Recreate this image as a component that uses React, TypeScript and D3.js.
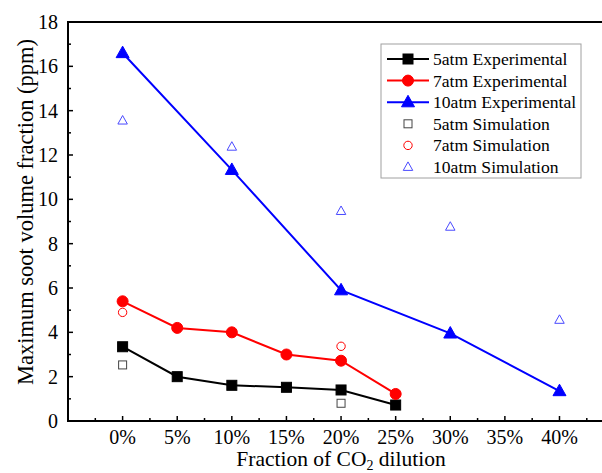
import React from "react";
import * as d3 from "d3";

// CO2 dilution levels (%)
const dilution5 = [0, 5, 10, 15, 20, 25];
const dilution7 = [0, 5, 10, 15, 20, 25];
const dilution10 = [0, 10, 20, 30, 40];

// Measured maximum soot volume fraction (ppm)
const exp5atm = [3.35, 2.0, 1.61, 1.52, 1.4, 0.72];
const exp7atm = [5.4, 4.2, 4.0, 3.0, 2.72, 1.22];
const exp10atm = [16.6, 11.33, 5.9, 3.95, 1.35];

// Simulated maximum soot volume fraction (ppm)
const simDil5 = [0, 20];
const sim5atm = [2.53, 0.8];
const simDil7 = [0, 20];
const sim7atm = [4.9, 3.37];
const simDil10 = [0, 10, 20, 30, 40];
const sim10atm = [13.55, 12.37, 9.47, 8.76, 4.56];

const xTicks = [0, 5, 10, 15, 20, 25, 30, 35, 40];
const yTicks = [0, 2, 4, 6, 8, 10, 12, 14, 16, 18];

const legendItems = [
  { label: "5atm Experimental", color: "#000", shape: "square", filled: true },
  { label: "7atm Experimental", color: "#ff0000", shape: "circle", filled: true },
  { label: "10atm Experimental", color: "#0000ff", shape: "triangle", filled: true },
  { label: "5atm Simulation", color: "#000", shape: "square", filled: false },
  { label: "7atm Simulation", color: "#ff0000", shape: "circle", filled: false },
  { label: "10atm Simulation", color: "#0000ff", shape: "triangle", filled: false },
];

const W = 602;
const H = 473;
const left = 68;
const top = 22;
const bottom = 421;
const FONT = "'Liberation Serif', 'Times New Roman', serif";

const x = d3.scaleLinear().domain([-5, 45]).range([left, 614.1]);
const y = d3.scaleLinear().domain([0, 18]).range([bottom, top]);

function Marker({ shape, filled, color, cx, cy }: any) {
  if (shape === "square") {
    const s = filled ? 10 : 8;
    return (
      <rect
        x={cx - s / 2}
        y={cy - s / 2}
        width={s}
        height={s}
        fill={filled ? color : "#fff"}
        stroke={filled ? color : "#444"}
        strokeWidth={1}
      />
    );
  }
  if (shape === "circle") {
    const r = filled ? 5.5 : 4.2;
    return <circle cx={cx} cy={cy} r={r} fill={filled ? color : "none"} stroke={color} strokeWidth={1} />;
  }
  const w = filled ? 13 : 9.5;
  const h = filled ? 11.5 : 8.5;
  const pts = [
    [cx, cy - h * 0.6],
    [cx + w / 2, cy + h * 0.4],
    [cx - w / 2, cy + h * 0.4],
  ];
  return (
    <polygon
      points={pts.map((p) => p.join(",")).join(" ")}
      fill={filled ? color : "none"}
      stroke={filled ? color : "#4a4aff"}
      strokeWidth={1}
    />
  );
}

export default function App() {
  const line = d3
    .line<[number, number]>()
    .x((d) => x(d[0]))
    .y((d) => y(d[1]));

  const expSeries = [
    { xs: dilution5, ys: exp5atm, color: "#000", shape: "square" },
    { xs: dilution7, ys: exp7atm, color: "#ff0000", shape: "circle" },
    { xs: dilution10, ys: exp10atm, color: "#0000ff", shape: "triangle" },
  ];
  const simSeries = [
    { xs: simDil5, ys: sim5atm, color: "#000", shape: "square" },
    { xs: simDil7, ys: sim7atm, color: "#ff0000", shape: "circle" },
    { xs: simDil10, ys: sim10atm, color: "#0000ff", shape: "triangle" },
  ];

  const xMinor = d3.range(-2.5, 45, 5);
  const yMinor = d3.range(1, 18, 2);

  const lgX = 381;
  const lgY = 44;
  const lgW = 200;
  const lgH = 134;
  const rowH = 21.6;

  return (
    <svg
      width={W}
      height={H}
      style={{ position: "absolute", left: 0, top: 0, background: "#fff" }}
      fontFamily={FONT}
    >
      <rect x={0} y={0} width={W} height={H} fill="#fff" />

      {/* axis ticks (inward) */}
      {xTicks.map((t) => (
        <line key={"xt" + t} x1={x(t)} x2={x(t)} y1={bottom} y2={bottom - 5} stroke="#000" strokeWidth={1.5} />
      ))}
      {xMinor.map((t) => (
        <line key={"xm" + t} x1={x(t)} x2={x(t)} y1={bottom} y2={bottom - 3} stroke="#000" strokeWidth={1.5} />
      ))}
      {yTicks.map((t) => (
        <line key={"yt" + t} x1={left} x2={left + 5} y1={y(t)} y2={y(t)} stroke="#000" strokeWidth={1.5} />
      ))}
      {yMinor.map((t) => (
        <line key={"ym" + t} x1={left} x2={left + 3} y1={y(t)} y2={y(t)} stroke="#000" strokeWidth={1.5} />
      ))}

      {/* frame */}
      <rect x={left} y={top} width={x(45) - left} height={bottom - top} fill="none" stroke="#000" strokeWidth={2} />

      {/* tick labels */}
      {xTicks.map((t) => (
        <text key={"xl" + t} x={x(t)} y={444} fontSize={20} textAnchor="middle" fill="#000">
          {t + "%"}
        </text>
      ))}
      {yTicks.map((t) => (
        <text key={"yl" + t} x={58} y={y(t) + 7} fontSize={20} textAnchor="end" fill="#000">
          {t}
        </text>
      ))}

      {/* axis titles */}
      <text y={466} fontSize={21.5} textAnchor="middle" fill="#000">
        <tspan x={341}>Fraction of CO</tspan>
        <tspan fontSize={14} dy={4}>2</tspan>
        <tspan dy={-4}> dilution</tspan>
      </text>
      <text
        transform={`translate(33, 212) rotate(-90)`}
        fontSize={22.5}
        textAnchor="middle"
        fill="#000"
      >
        Maximum soot volume fraction (ppm)
      </text>

      {/* experimental series */}
      {expSeries.map((s, i) => (
        <g key={"e" + i}>
          <path
            d={line(s.xs.map((v, j) => [v, s.ys[j]]) as [number, number][]) || ""}
            fill="none"
            stroke={s.color}
            strokeWidth={2}
          />
          {s.xs.map((v, j) => (
            <Marker key={j} shape={s.shape} filled color={s.color} cx={x(v)} cy={y(s.ys[j])} />
          ))}
        </g>
      ))}

      {/* simulation points */}
      {simSeries.map((s, i) => (
        <g key={"s" + i}>
          {s.xs.map((v, j) => (
            <Marker key={j} shape={s.shape} filled={false} color={s.color} cx={x(v)} cy={y(s.ys[j])} />
          ))}
        </g>
      ))}

      {/* legend */}
      <rect x={lgX} y={lgY} width={lgW} height={lgH} fill="#fff" stroke="#a0a0a0" strokeWidth={1} />
      {legendItems.map((it, i) => {
        const cy = 59 + i * rowH;
        return (
          <g key={"lg" + i}>
            {it.filled && <line x1={387} x2={429} y1={cy} y2={cy} stroke={it.color} strokeWidth={2} />}
            <Marker shape={it.shape} filled={it.filled} color={it.color} cx={408} cy={cy} />
            <text x={433} y={cy + 6} fontSize={17.6} fill="#000">
              {it.label}
            </text>
          </g>
        );
      })}
    </svg>
  );
}
